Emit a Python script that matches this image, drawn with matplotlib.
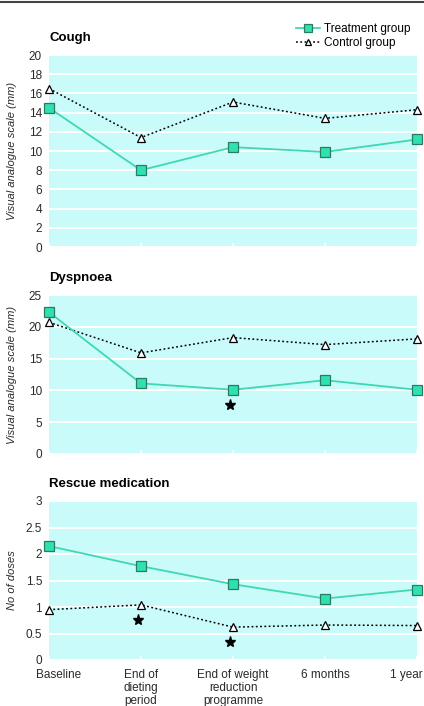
import matplotlib
matplotlib.use('agg')
import matplotlib.pyplot as plt
import matplotlib.transforms as mtransforms
from matplotlib.lines import Line2D

plt.rcParams['font.family'] = ['Liberation Sans', 'DejaVu Sans']

# Data
timepoints = ['Baseline', 'End of\ndieting\nperiod', 'End of weight\nreduction\nprogramme',
              '6 months', '1 year']

cough_treatment = [14.5, 8.0, 10.4, 9.9, 11.2]
cough_control = [16.5, 11.4, 15.1, 13.4, 14.3]

dyspnoea_treatment = [22.3, 11.1, 10.1, 11.6, 10.1]
dyspnoea_control = [20.7, 15.9, 18.3, 17.2, 18.1]

rescue_treatment = [2.15, 1.77, 1.43, 1.16, 1.33]
rescue_control = [0.95, 1.04, 0.62, 0.66, 0.65]

dyspnoea_stars = [(2, 7.7)]
rescue_stars = [(1, 0.76), (2, 0.34)]

panels = [
    dict(title='Cough', ylabel='Visual analogue scale (mm)', ymax=20, step=2,
         treat=cough_treatment, ctrl=cough_control, stars=[]),
    dict(title='Dyspnoea', ylabel='Visual analogue scale (mm)', ymax=25, step=5,
         treat=dyspnoea_treatment, ctrl=dyspnoea_control, stars=dyspnoea_stars),
    dict(title='Rescue medication', ylabel='No of doses', ymax=3, step=0.5,
         treat=rescue_treatment, ctrl=rescue_control, stars=rescue_stars),
]

BG = '#c9fbfb'
TEAL_LINE = '#3fd8b0'
TEAL_FACE = '#2fe0b0'
TEAL_EDGE = '#2b7a62'
TEXT = '#2a2a2a'
FS = 8.5

W, H = 424, 706
fig = plt.figure(figsize=(W / 100, H / 100), dpi=100)

# top rule
fig.add_artist(Line2D([0, 1], [1 - 2 / H, 1 - 2 / H], color='#444444', linewidth=1.5))

# axes boxes in pixels (left, top, right, bottom)
boxes = [(49, 55, 417, 247), (49, 295, 417, 454), (49, 501, 417, 660)]
xs = list(range(len(timepoints)))

for i, (p, (l, t, r, b)) in enumerate(zip(panels, boxes)):
    ax = fig.add_axes([l / W, 1 - b / H, (r - l) / W, (b - t) / H])
    ax.set_facecolor(BG)
    for s in ax.spines.values():
        s.set_visible(False)
    ax.set_xlim(0, len(timepoints) - 1)
    ax.set_ylim(0, p['ymax'])
    n = int(round(p['ymax'] / p['step']))
    yt = [k * p['step'] for k in range(n + 1)]
    ax.set_yticks(yt)
    ax.set_yticklabels(['%g' % v for v in yt], fontsize=FS, color=TEXT)
    ax.tick_params(axis='y', length=0, pad=5)
    ax.grid(axis='y', color='white', linewidth=1.4)
    ax.set_axisbelow(True)

    ax.set_xticks(xs)
    ax.tick_params(axis='x', direction='inout', length=6, width=1.2, color='white')
    if i == 2:
        ax.set_xticklabels(timepoints, fontsize=FS, color=TEXT, linespacing=1.1)
        labels = ax.get_xticklabels()
        labels[0].set_transform(labels[0].get_transform() +
                                mtransforms.ScaledTranslation(0.1, 0, fig.dpi_scale_trans))
        labels[-1].set_transform(labels[-1].get_transform() +
                                 mtransforms.ScaledTranslation(-0.11, 0, fig.dpi_scale_trans))
    else:
        ax.set_xticklabels([])

    ax.plot(xs, p['ctrl'], color='black', linestyle=(0, (1.2, 1.6)), linewidth=1.1,
            marker='^', markersize=5.5, markerfacecolor='white', markeredgecolor='black',
            markeredgewidth=0.9, clip_on=False, zorder=3)
    ax.plot(xs, p['treat'], color=TEAL_LINE, linewidth=1.3,
            marker='s', markersize=6.5, markerfacecolor=TEAL_FACE, markeredgecolor=TEAL_EDGE,
            markeredgewidth=0.9, clip_on=False, zorder=4)

    if p['stars']:
        sx, sy = zip(*p['stars'])
        ax.plot([x - 0.03 for x in sx], sy, linestyle='none', marker='*', markersize=8,
                color='black', zorder=5)

    fig.text(l / W, 1 - (t - 17) / H, p['title'], fontsize=9.5, fontweight='bold',
             ha='left', va='center', color='black')
    fig.text(12 / W, 1 - ((t + b) / 2) / H, p['ylabel'], rotation=90, fontsize=8,
             style='italic', ha='center', va='center', color=TEXT)

handles = [
    Line2D([], [], color=TEAL_LINE, linewidth=1.3, marker='s', markersize=6,
           markerfacecolor=TEAL_FACE, markeredgecolor=TEAL_EDGE, markeredgewidth=0.9),
    Line2D([], [], color='black', linestyle=(0, (1.2, 1.6)), linewidth=1.1, marker='^',
           markersize=5, markerfacecolor='white', markeredgecolor='black', markeredgewidth=0.9),
]
fig.legend(handles, ['Treatment group', 'Control group'], loc='upper right',
           bbox_to_anchor=(1 - 8 / W, 1 - 17 / H), frameon=False, fontsize=FS,
           handlelength=2.0, handletextpad=0.3, labelspacing=0.2, borderpad=0)

fig.savefig('out.png', dpi=100)
plt.close(fig)
